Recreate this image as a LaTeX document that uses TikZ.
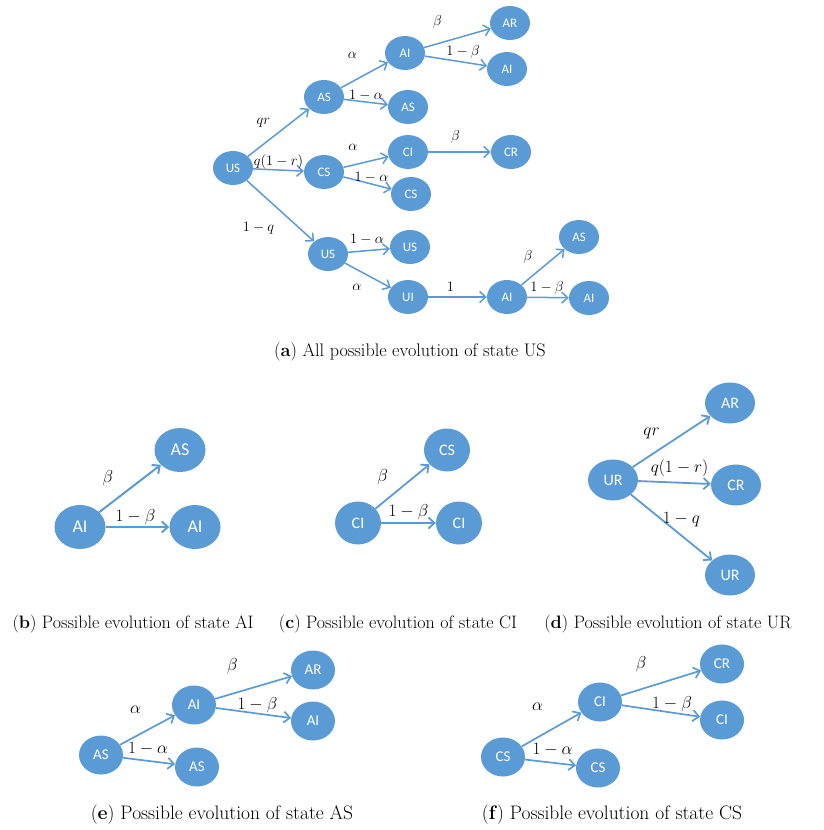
\documentclass[tikz,border=0pt]{standalone}
\usepackage{fontspec}
\usetikzlibrary{shapes.geometric,arrows.meta}
\newfontfamily\statefont{Carlito}
\definecolor{stblue}{HTML}{5B9BD5}

\begin{document}
\begin{tikzpicture}[x=1pt, y=-1pt,
  st/.style={ellipse, fill=stblue, text=white, inner sep=0pt, minimum width=40, minimum height=34, font=\statefont\fontsize{13}{13}\selectfont},
  arr/.style={draw=stblue, line width=1.5, -{Straight Barb[length=6, width=11]}},
  lbl/.style={inner sep=0pt, font=\fontsize{15.5}{15.5}\selectfont},
  captext/.style={inner sep=0pt, font=\fontsize{18.2}{18.2}\selectfont}]
  \useasboundingbox (0,0) rectangle (823,830);

  % (a) every branch starting from US
  \foreach \n/\p/\t in {us/{233,168}/US, as/{324,97}/AS, cs/{324,172}/CS, usb/{328,254}/US,
      ai/{405,53}/AI, asb/{408,107}/AS, ci/{408,152}/CI, csb/{411,194}/CS, usc/{410,247}/US, ui/{408,297}/UI,
      ar/{510,23}/AR, aib/{507,69}/AI, cr/{511,152}/CR, aic/{507,297}/AI, asc/{579,237}/AS, aid/{589,298}/AI}{
    \node[st] (a\n) at (\p) {\t};
  }
  \foreach \a/\b/\l/\s in {us/as/qr/{-15,-10}, us/cs/q(1-r)/{0,-8}, us/usb/1-q/{-22,17},
      as/ai/\alpha/{-12,-20}, as/asb/1-\alpha/{0,-7}, ai/ar/\beta/{-20,-16}, ai/aib/1-\beta/{7,-9},
      cs/ci/\alpha/{-13,-15}, cs/csb/1-\alpha/{4,-6}, ci/cr/\beta/{-4,-15},
      usb/usc/1-\alpha/{-2,-11}, usb/ui/\alpha/{-11,12}, ui/aic/1/{-7,-10},
      aic/asc/\beta/{-15,-10}, aic/aid/1-\beta/{-1,-10}}{
    \draw[arr] (a\a) -- node[lbl, shift={(\s)}] {$\l$} (a\b);
  }
  \node[captext] (capa) at (410,352) {(\textbf{a}) All possible evolution of state US};

  % (b) AI
  \begin{scope}[st/.append style={minimum width=51, minimum height=44, font=\statefont\fontsize{18}{18}\selectfont},
      arr/.append style={line width=2}, lbl/.append style={font=\fontsize{19}{19}\selectfont}]
    \node[st] (bai) at (80,527) {AI};
    \node[st] (bas) at (180,450) {AS};
    \node[st] (baib) at (195,527) {AI};
    \draw[arr] (bai) -- node[lbl, shift={(-22,-10)}] {$\beta$} (bas);
    \draw[arr] (bai) -- node[lbl, shift={(-2,-10)}] {$1-\beta$} (baib);
  \end{scope}

  % (c) CI
  \begin{scope}[st/.append style={minimum width=46, minimum height=43, font=\statefont\fontsize{16}{16}\selectfont},
      arr/.append style={line width=1.8}, lbl/.append style={font=\fontsize{17}{17}\selectfont}]
    \node[st] (cci) at (358,523) {CI};
    \node[st] (ccs) at (447,450) {CS};
    \node[st] (ccib) at (459,523) {CI};
    \draw[arr] (cci) -- node[lbl, shift={(-20,-9)}] {$\beta$} (ccs);
    \draw[arr] (cci) -- node[lbl, shift={(0,-11)}] {$1-\beta$} (ccib);
  \end{scope}

  % (d) UR
  \begin{scope}[st/.append style={minimum width=50, minimum height=41, font=\statefont\fontsize{16}{16}\selectfont},
      arr/.append style={line width=1.8}, lbl/.append style={font=\fontsize{16.5}{16.5}\selectfont}]
    \node[st] (dur) at (613,480) {UR};
    \node[st] (dar) at (730,403) {AR};
    \node[st] (dcr) at (736,485) {CR};
    \node[st] (durb) at (730,575) {UR};
    \draw[arr] (dur) -- node[lbl, shift={(-20,-8)}] {$qr$} (dar);
    \draw[arr] (dur) -- node[lbl, shift={(5,-14)}] {$q(1-r)$} (dcr);
    \draw[arr] (dur) -- node[lbl, shift={(10,-8)}] {$1-q$} (durb);
  \end{scope}
  \begin{scope}[captext/.append style={font=\fontsize{18}{18}\selectfont}]
    \node[captext] (capb) at (133,624) {(\textbf{b}) Possible evolution of state AI};
    \node[captext] (capc) at (398,624) {(\textbf{c}) Possible evolution of state CI};
    \node[captext] (capd) at (668,624) {(\textbf{d}) Possible evolution of state UR};
  \end{scope}

  % (e) AS and (f) CS
  \begin{scope}[st/.append style={minimum width=44, minimum height=39, font=\statefont\fontsize{15}{15}\selectfont},
      arr/.append style={line width=1.7}, lbl/.append style={font=\fontsize{16.5}{16.5}\selectfont}]
    \foreach \n/\p/\t in {eas/{101,755}/AS, eai/{194,705}/AI, ear/{313,670}/AR, eaib/{313,721}/AI, easb/{197,767}/AS,
        fcs/{503,757}/CS, fci/{600,702}/CI, fcr/{722,664}/CR, fcib/{722,720}/CI, fcsb/{598,768}/CS}{
      \node[st] (\n) at (\p) {\t};
    }
    \foreach \a/\b/\l/\s in {eas/eai/\alpha/{-12,-20}, eas/easb/1-\alpha/{-1,-12}, eai/ear/\beta/{-21,-21}, eai/eaib/1-\beta/{4,-8},
        fcs/fci/\alpha/{-14,-23}, fcs/fcsb/1-\alpha/{2,-13}, fci/fcr/\beta/{-20,-19}, fci/fcib/1-\beta/{11,-7}}{
      \draw[arr] (\a) -- node[lbl, shift={(\s)}] {$\l$} (\b);
    }
  \end{scope}
  \begin{scope}[captext/.append style={font=\fontsize{19.5}{19.5}\selectfont}]
    \node[captext] (cape) at (222,815) {(\textbf{e}) Possible evolution of state AS};
    \node[captext] (capf) at (612,815) {(\textbf{f}) Possible evolution of state CS};
  \end{scope}
\end{tikzpicture}
\end{document}
